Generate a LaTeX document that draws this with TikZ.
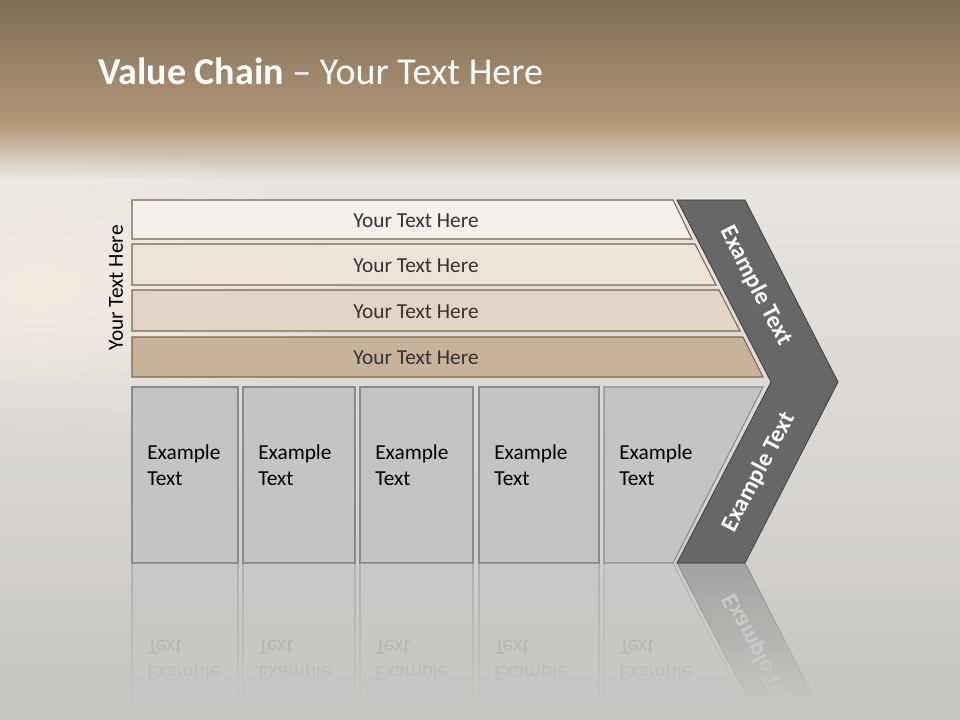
\documentclass[tikz,border=0pt]{standalone}
\usepackage{fontspec}
\setmainfont{Carlito}
\usetikzlibrary{fadings}

\definecolor{bgtop}{HTML}{7F6D56}
\definecolor{bgband}{HTML}{B49879}
\definecolor{bghaze}{HTML}{E8E5E1}
\definecolor{bgfloor}{HTML}{C9C7C4}
\definecolor{bgglow}{HTML}{F8EFE5}
\definecolor{barline}{HTML}{7B6650}
\definecolor{barA}{HTML}{F4F0EC}
\definecolor{barB}{HTML}{ECE4DB}
\definecolor{barC}{HTML}{E3D4C5}
\definecolor{barD}{HTML}{C9B29A}
\definecolor{cellfill}{HTML}{C4C4C4}
\definecolor{cellline}{HTML}{8A8A8A}
\definecolor{chevfill}{HTML}{676767}
\definecolor{chevline}{HTML}{3F3F3F}
\definecolor{darktext}{HTML}{333333}

\tikzfading[name=fadeup, top color=transparent!100, bottom color=transparent!0]
\tikzfading[name=glowfade, inner color=transparent!15, outer color=transparent!100]

\begin{document}
\begin{tikzpicture}[
    x=0.75pt,y=-0.75pt,
    bar/.style={draw=barline,line width=0.8pt},
    bartext/.style={font=\fontsize{16}{19}\selectfont,text=darktext},
    cell/.style={draw=cellline,fill=cellfill,line width=0.8pt},
    celltext/.style={font=\fontsize{16}{19.5}\selectfont,align=left,
                     anchor=north west,inner sep=0pt},
    chev/.style={draw=chevline,fill=chevfill,line width=0.6pt},
    chevtext/.style={font=\fontsize{18}{21}\selectfont\bfseries,text=white},
]

\useasboundingbox (0,0) rectangle (960,720);

% ---- Background --------------------------------------------------------
\shade[top color=bgtop,bottom color=bgband] (0,0) rectangle (960,126);
\shade[top color=bgband,bottom color=bghaze] (0,125) rectangle (960,180);
\shade[top color=bghaze,bottom color=bgfloor] (0,179) rectangle (960,720);
\fill[bgglow,path fading=glowfade] (40,290) ellipse (330 and 150);

% ---- Title -------------------------------------------------------------
\node[anchor=base west,inner sep=0pt,text=white,
      font=\fontsize{28.5}{33}\selectfont] (title) at (98,85)
    {\textbf{Value Chain} – Your Text Here};

% ---- Side label --------------------------------------------------------
\node[rotate=90,font=\fontsize{16}{19}\selectfont] (side) at (116,288)
    {Your Text Here};

% ---- Layer bars ----------------------------------------------------------
\foreach \n/\t/\b/\rt/\rb/\c in {1/200/239/673/692/barA, 2/244/285/695/716/barB,
                                  3/290/331/719/740/barC, 4/337/377/743/763/barD}{
  \draw[bar,fill=\c] (132,\t) -- (\rt,\t) -- (\rb,\b) -- (132,\b) -- cycle;
  \node[bartext] (bar\n) at (416,{(\t+\b)/2+1}) {Your Text Here};
}

% ---- Activity cells ------------------------------------------------------
\foreach \n/\l/\rt/\rb in {1/132/238/238, 2/243/355/355, 3/360/473/473,
                           4/479/599/599, 5/604/763/673}{
  \draw[cell] (\l,387) -- (\rt,387) -- (\rb,563) -- (\l,563) -- cycle;
  \node[celltext] (cell\n) at (\l+15,444) {Example\\Text};
}

% ---- Chevron -------------------------------------------------------------
\draw[chev] (677,200) -- (745,200) -- (838,382) -- (745,563)
    -- (677,563) -- (771,382) -- cycle;
\node[chevtext,rotate=-62.7] (chevup) at (756,286) {Example Text};
\node[chevtext,rotate=62.5] (chevlow) at (759,472) {Example Text};

% ---- Reflection ----------------------------------------------------------
\begin{scope}[shift={(0,1126)},yscale=-1,opacity=0.42,
              every node/.style={transform shape}]
  \foreach \n/\l/\rt/\rb in {1/132/238/238, 2/243/355/355, 3/360/473/473,
                             4/479/599/599, 5/604/763/673}{
    \draw[cell] (\l,387) -- (\rt,387) -- (\rb,563) -- (\l,563) -- cycle;
    \node[celltext,text=black!60] (mcell\n) at (\l+15,444) {Example\\Text};
  }
  \draw[chev] (771,382) -- (838,382) -- (745,563) -- (677,563) -- cycle;
  \node[chevtext,rotate=62.5] (mchev) at (759,472) {Example Text};
\end{scope}
\fill[bgfloor,path fading=fadeup] (0,563) rectangle (960,705);
\fill[bgfloor] (0,704) rectangle (960,720);

\end{tikzpicture}
\end{document}
